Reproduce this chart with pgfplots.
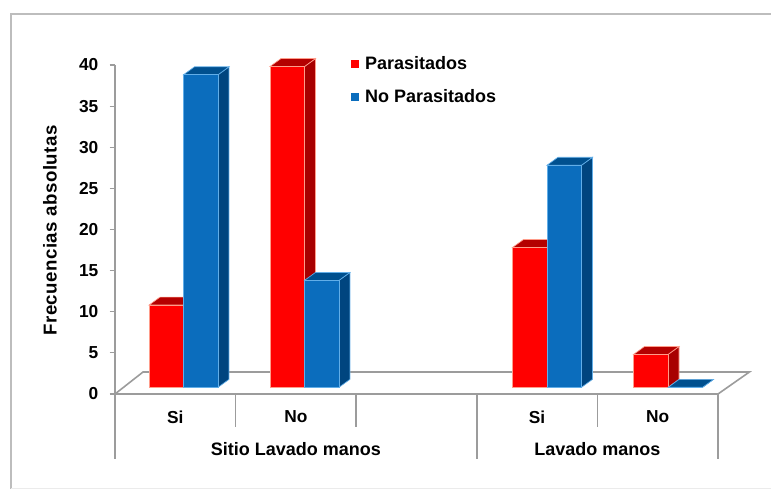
\documentclass[border=0pt]{standalone}
\usepackage{pgfplots}
\usepackage{fontspec}
\setmainfont{Liberation Sans}
\pgfplotsset{compat=1.18}
\definecolor{framegray}{HTML}{BDBDBD}
\definecolor{axisgray}{HTML}{9C9C9C}
\definecolor{redfront}{HTML}{FF0000}
\definecolor{redside}{HTML}{A80000}
\definecolor{redtop}{HTML}{B40000}
\definecolor{rededge}{HTML}{FF9C8A}
\definecolor{bluefront}{HTML}{0B6DBD}
\definecolor{blueside}{HTML}{00457F}
\definecolor{bluetop}{HTML}{00508F}
\definecolor{blueedge}{HTML}{62AEE8}

% One solid bar: left edge #1, value #2, colour family #3.
% Depth in axis units: 11 px across, 8 px up; the block stands on the floor.
\newcommand{\solidbar}[3]{%
  \pgfmathsetmacro{\xl}{#1}%
  \pgfmathsetmacro{\xr}{#1+0.286}%
  \pgfmathsetmacro{\xlb}{#1+0.0912}%
  \pgfmathsetmacro{\xrb}{#1+0.286+0.0912}%
  \pgfmathsetmacro{\xm}{#1+0.143}%
  \pgfmathsetmacro{\vb}{#2+0.97}%
  \edef\temp{\noexpand\addplot[floorshift, fill=#3side, draw=#3edge, line width=0.5pt]
    coordinates {(\xr,0) (\xrb,0.97) (\xrb,\vb) (\xr,#2)} -- cycle;
    \noexpand\addplot[floorshift, fill=#3top, draw=#3edge, line width=0.5pt]
    coordinates {(\xl,#2) (\xlb,\vb) (\xrb,\vb) (\xr,#2)} -- cycle;
    \noexpand\addplot[floorshift, ybar, bar shift=0pt, bar width=0.286, fill=#3front, draw=#3edge, line width=0.6pt]
    coordinates {(\xm,#2)};}%
  \temp
}

\begin{document}
\begin{tikzpicture}[x=0.75pt,y=0.75pt]
  \path[use as bounding box] (0,0) rectangle (771,489);
  \draw[framegray, line width=1.1pt] (11,0) -- (11,475) -- (771,475);
  \draw[black!8, line width=0.6pt] (11,1) -- (771,1);
  \begin{axis}[
    at={(86.25pt,71.25pt)}, anchor=south west,
    scale only axis, width=452.25pt, height=246.75pt,
    xmin=0, xmax=5, ymin=0, ymax=40,
    clip=false,
    separate axis lines,
    axis x line*=bottom, axis y line*=left,
    axis line style={axisgray, line width=1.2pt, -},
    font=\bfseries\fontsize{13}{15}\selectfont,
    /pgf/number format/assume math mode=true,
    ytick={0,5,...,40},
    xtick={0.5,1.5,3.5,4.5},
    xticklabels={Si,No,Si,No},
    x tick label style={yshift=-5pt},
    y tick label style={xshift=-5pt},
    tick align=outside,
    ytick pos=left,
    xtick pos=bottom,
    major tick length=4pt,
    x tick style={draw=none},
    y tick style={axisgray, line width=0.9pt},
    ylabel={\fontsize{14}{16}\selectfont\addfontfeature{LetterSpace=2.5}Frecuencias absolutas},
    ylabel style={at={(axis description cs:-0.108,0.497)}, anchor=center},
    floorshift/.style={yshift=5pt},
    legend style={at={(axis cs:1.955,41.4)}, anchor=north west, draw=none, fill=none,
      row sep=9.5pt, inner sep=0pt, font=\bfseries\fontsize{13.5}{15}\selectfont},
    legend cell align=left,
    legend image code/.code={\fill[#1] (0pt,-2.7pt) rectangle (5.4pt,2.7pt);
      \path[draw=none, fill=none] (0pt,0pt) (8.4pt,0pt);},
  ]
    % floor of the box and the tiered category separators
    \addplot[axisgray, line width=1.2pt, forget plot] coordinates {(0,0) (0.232,2.67) (5.26,2.67) (5,0)};
    \addplot[axisgray, line width=1.2pt, forget plot] coordinates {(0,0) (0,-7.9)};
    \addplot[axisgray, line width=1.2pt, forget plot] coordinates {(1,0) (1,-4)};
    \addplot[axisgray, line width=1.2pt, forget plot] coordinates {(2,0) (2,-4)};
    \addplot[axisgray, line width=1.2pt, forget plot] coordinates {(3,0) (3,-7.9)};
    \addplot[axisgray, line width=1.2pt, forget plot] coordinates {(4,0) (4,-4)};
    \addplot[axisgray, line width=1.2pt, forget plot] coordinates {(5,0) (5,-7.9)};

    \addlegendimage{redfront}
    \addlegendentry{Parasitados}
    \addlegendimage{bluefront}
    \addlegendentry{No Parasitados}

    \pgfplotsset{every axis plot/.append style={forget plot}}
    \solidbar{0.282}{10}{red}
    \solidbar{0.568}{38}{blue}
    \solidbar{1.285}{39}{red}
    \solidbar{1.571}{13}{blue}
    \solidbar{3.296}{17}{red}
    \solidbar{3.582}{27}{blue}
    \solidbar{4.300}{4}{red}
    \solidbar{4.586}{0}{blue}

    \node[font=\bfseries\fontsize{13.5}{15}\selectfont] at (axis cs:1.5,-6.7) {Sitio Lavado manos};
    \node[font=\bfseries\fontsize{13.5}{15}\selectfont] at (axis cs:4,-6.7) {Lavado manos};
  \end{axis}
\end{tikzpicture}
\end{document}
